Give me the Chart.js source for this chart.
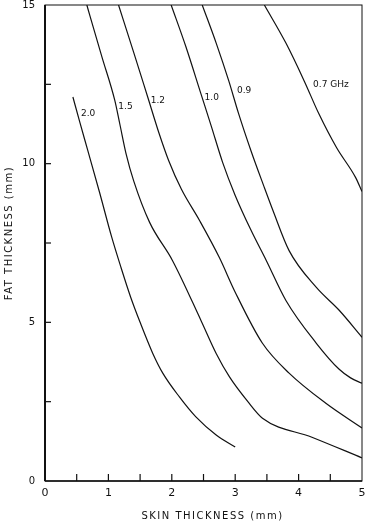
<!DOCTYPE html>
<html>
<head>
<meta charset="utf-8">
<script src="https://cdn.jsdelivr.net/npm/chart.js@4/dist/chart.umd.min.js"></script>
<style>
  body { margin: 0; background: #fff; }
</style>
</head>
<body>
<canvas id="fatChart" width="367" height="525"></canvas>
<script>
// skin thickness (mm) / fat thickness (mm) for each frequency curve
const skin20 = [0.44, 0.55, 0.67, 0.86, 1.05, 1.2, 1.35, 1.5, 1.7, 1.86, 2.12, 2.38, 2.7, 3.0];
const fat20  = [12.1, 11.3, 10.45, 9.1, 7.7, 6.72, 5.8, 5.0, 4.02, 3.39, 2.65, 2.02, 1.45, 1.07];
const skin15 = [0.66, 0.71, 0.9, 1.1, 1.18, 1.28, 1.4, 1.65, 2.01, 2.46, 2.7, 2.91, 3.2, 3.43, 4.21, 5.0];
const fat15  = [15.0, 14.65, 13.35, 12.0, 11.25, 10.3, 9.45, 8.15, 6.95, 5.06, 4.02, 3.28, 2.5, 1.98, 1.38, 0.73];
const skin12 = [1.16, 1.4, 1.62, 1.8, 1.95, 2.15, 2.44, 2.75, 3.0, 3.43, 3.85, 4.43, 5.0];
const fat12  = [15.0, 13.5, 12.1, 10.95, 10.1, 9.2, 8.2, 7.04, 5.95, 4.34, 3.4, 2.45, 1.67];
const skin10 = [1.99, 2.22, 2.46, 2.62, 2.8, 3.0, 3.25, 3.49, 3.8, 4.28, 4.64, 4.82, 5.0];
const fat10  = [15.0, 13.7, 12.2, 11.2, 10.05, 9.0, 7.9, 6.95, 5.69, 4.34, 3.52, 3.25, 3.08];
const skin09 = [2.48, 2.7, 2.9, 3.05, 3.25, 3.45, 3.6, 3.85, 4.28, 4.64, 5.0];
const fat09  = [15.0, 13.8, 12.6, 11.6, 10.4, 9.3, 8.5, 7.26, 6.1, 5.38, 4.53];
const skin07 = [3.46, 3.8, 4.09, 4.32, 4.6, 4.9, 5.0];
const fat07  = [15.0, 13.8, 12.6, 11.57, 10.5, 9.56, 9.12];

const curveNames = ['2.0', '1.5', '1.2', '1.0', '0.9', '0.7 GHz'];
// where each curve name is written (data units)
const nameSkin = [0.68, 1.27, 1.78, 2.63, 3.14, 4.51];
const nameFat  = [11.57, 11.79, 11.97, 12.09, 12.3, 12.48];

const xTicks = [0, 1, 2, 3, 4, 5];
const yTicks = [0, 5, 10, 15];

function toPoints(xs, ys) {
  return xs.map((x, i) => ({ x: x, y: ys[i] }));
}

const curves = [[skin20, fat20], [skin15, fat15], [skin12, fat12], [skin10, fat10], [skin09, fat09], [skin07, fat07]];

const datasets = curves.map((c, i) => ({
  label: curveNames[i],
  data: toPoints(c[0], c[1]),
  borderColor: '#111',
  borderWidth: 1.2,
  pointRadius: 0,
  cubicInterpolationMode: 'monotone',
  fill: false
}));

const FONT = '"DejaVu Sans", sans-serif';

// frame, inward ticks, curve names, axis titles
const paperPlugin = {
  id: 'paper',
  afterDraw(chart) {
    const ctx = chart.ctx;
    const a = chart.chartArea;
    const xs = chart.scales.x, ys = chart.scales.y;
    ctx.save();
    ctx.strokeStyle = '#111';
    // frame
    ctx.lineWidth = 1;
    ctx.strokeRect(a.left, a.top, a.right - a.left, a.bottom - a.top);
    ctx.lineWidth = 2;
    ctx.beginPath(); ctx.moveTo(a.left, a.top); ctx.lineTo(a.left, a.bottom); ctx.stroke();
    ctx.lineWidth = 1.5;
    ctx.beginPath(); ctx.moveTo(a.left, a.bottom); ctx.lineTo(a.right, a.bottom); ctx.stroke();
    // ticks pointing in
    ctx.lineWidth = 1.2;
    for (let v = 0.5; v < 5; v += 0.5) {
      const px = xs.getPixelForValue(v);
      ctx.beginPath(); ctx.moveTo(px, a.bottom); ctx.lineTo(px, a.bottom - 7); ctx.stroke();
    }
    for (let v = 2.5; v < 15; v += 2.5) {
      const py = ys.getPixelForValue(v);
      ctx.beginPath(); ctx.moveTo(a.left, py); ctx.lineTo(a.left + 6, py); ctx.stroke();
    }
    // curve names
    ctx.fillStyle = '#111';
    ctx.font = '9px ' + FONT;
    ctx.textAlign = 'center';
    ctx.textBaseline = 'middle';
    curveNames.forEach((n, i) => {
      ctx.fillText(n, xs.getPixelForValue(nameSkin[i]), ys.getPixelForValue(nameFat[i]));
    });
    // axis titles
    ctx.font = '10px ' + FONT;
    ctx.letterSpacing = '1.5px';
    ctx.fillText('SKIN THICKNESS (mm)', (a.left + a.right) / 2 + 9, 516);
    ctx.translate(9, (a.top + a.bottom) / 2 - 10);
    ctx.rotate(-Math.PI / 2);
    ctx.fillText('FAT THICKNESS (mm)', 0, 0);
    ctx.restore();
  }
};

const ctx = document.getElementById('fatChart').getContext('2d');
const myChart = new Chart(ctx, {
  type: 'line',
  data: { datasets: datasets },
  options: {
    responsive: false,
    animation: false,
    layout: { padding: { left: 0, top: 5, right: 5, bottom: 0 } },
    plugins: { legend: { display: false }, tooltip: { enabled: false } },
    scales: {
      x: {
        type: 'linear',
        min: 0, max: 5,
        grid: { display: false, drawTicks: false },
        border: { display: false },
        afterBuildTicks: s => { s.ticks = xTicks.map(v => ({ value: v })); },
        afterFit: s => { s.height = 44; s.paddingLeft = 0; s.paddingRight = 0; },
        ticks: { color: '#111', padding: 6, font: { family: FONT, size: 11 } }
      },
      y: {
        type: 'linear',
        min: 0, max: 15,
        grid: { display: false, drawTicks: false },
        border: { display: false },
        afterBuildTicks: s => { s.ticks = yTicks.map(v => ({ value: v })); },
        afterFit: s => { s.width = 45; s.paddingTop = 0; s.paddingBottom = 0; },
        ticks: { color: '#111', padding: 10, font: { family: FONT, size: 10 } }
      }
    }
  },
  plugins: [paperPlugin]
});
</script>
</body>
</html>
